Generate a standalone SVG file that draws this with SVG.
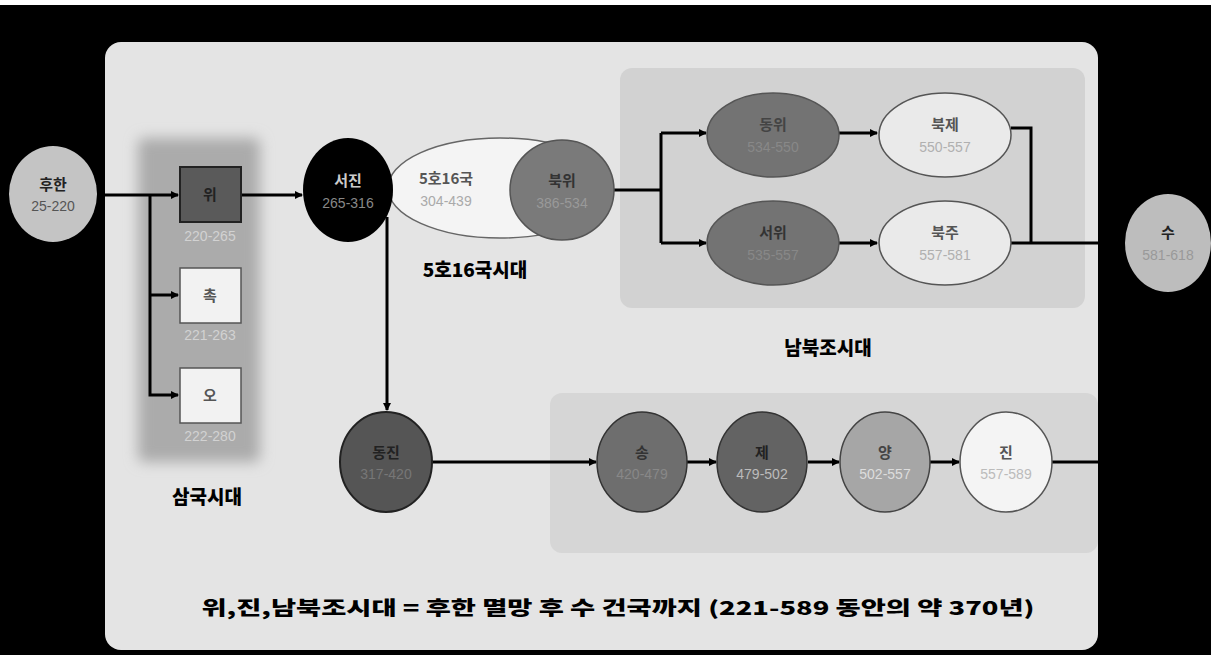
<svg xmlns="http://www.w3.org/2000/svg" width="1211" height="655" viewBox="0 0 1211 655">
<defs>
<marker id="arr" markerWidth="8" markerHeight="8" refX="7" refY="4" orient="auto" markerUnits="userSpaceOnUse">
<path d="M0,0 L8,4 L0,8 Z" fill="#000"/>
</marker>
<filter id="blur" x="-20%" y="-20%" width="140%" height="140%">
<feGaussianBlur stdDeviation="7"/>
</filter>
<style>
.nm{font-family:"Noto Sans CJK KR","Noto Sans",sans-serif;font-size:15px;font-weight:bold;text-anchor:middle}
.dt{font-family:"Liberation Sans","Noto Sans CJK KR",sans-serif;font-size:14px;text-anchor:middle}
.ttl{font-family:"Noto Sans CJK KR",sans-serif;font-size:19px;font-weight:900;text-anchor:middle;fill:#000}
.ln{fill:none;stroke:#000;stroke-width:3}
.ol{stroke:#555;stroke-width:1.5}
</style>
</defs>
<rect x="0" y="0" width="1211" height="655" fill="#000"/>
<rect x="0" y="0" width="1211" height="5" fill="#fff"/>
<rect x="105" y="42" width="993" height="608" rx="16" fill="#e4e4e4"/>
<rect x="620" y="68" width="465" height="240" rx="12" fill="#d2d2d2"/>
<rect x="550" y="393" width="548" height="160" rx="12" fill="#d6d6d6"/>
<rect x="138" y="138" width="122" height="324" rx="6" fill="#ababab" filter="url(#blur)"/>

<g id="connectors">
<path class="ln" d="M97,195 H178" marker-end="url(#arr)"/>
<path class="ln" d="M150,195 V395 H178" marker-end="url(#arr)"/>
<path class="ln" d="M150,295 H178" marker-end="url(#arr)"/>
<path class="ln" d="M241,195 H302" marker-end="url(#arr)"/>
<path class="ln" d="M387,217 V410" marker-end="url(#arr)"/>
<path class="ln" d="M614,190 H661"/>
<path class="ln" d="M661,133 V243"/>
<path class="ln" d="M661,133 H706" marker-end="url(#arr)"/>
<path class="ln" d="M661,243 H706" marker-end="url(#arr)"/>
<path class="ln" d="M839,133 H877" marker-end="url(#arr)"/>
<path class="ln" d="M839,243 H877" marker-end="url(#arr)"/>
<path class="ln" d="M1011,128 H1031 V243"/>
<path class="ln" d="M1011,243 H1100"/>
<path class="ln" d="M432,462 H596" marker-end="url(#arr)"/>
<path class="ln" d="M687,462 H716" marker-end="url(#arr)"/>
<path class="ln" d="M808,462 H839" marker-end="url(#arr)"/>
<path class="ln" d="M930,462 H959" marker-end="url(#arr)"/>
<path class="ln" d="M1052,462 H1098"/>
</g>

<g id="n-huhan">
<ellipse cx="53" cy="194" rx="44" ry="48" fill="#c4c4c4"/>
<text class="nm" x="53" y="190" fill="#222">후한</text>
<text class="dt" x="53" y="211" fill="#555">25-220</text>
</g>
<g id="n-wi">
<rect x="180" y="167" width="61" height="55" fill="#5a5a5a" stroke="#222" stroke-width="2"/>
<text class="nm" x="210" y="200" fill="#222">위</text>
<text class="dt" x="210" y="241" fill="#d2d2d2">220-265</text>
</g>
<g id="n-chok">
<rect x="180" y="268" width="61" height="55" fill="#f2f2f2" stroke="#555" stroke-width="1.5"/>
<text class="nm" x="210" y="301" fill="#555">촉</text>
<text class="dt" x="210" y="340" fill="#d2d2d2">221-263</text>
</g>
<g id="n-o">
<rect x="180" y="368" width="61" height="55" fill="#f2f2f2" stroke="#555" stroke-width="1.5"/>
<text class="nm" x="210" y="401" fill="#555">오</text>
<text class="dt" x="210" y="441" fill="#d2d2d2">222-280</text>
</g>
<text class="ttl" x="207" y="504">삼국시대</text>

<g id="n-5ho">
<ellipse cx="500" cy="188" rx="112" ry="50" fill="#f4f4f4" stroke="#666" stroke-width="1.5"/>
<text class="nm" x="446" y="184" fill="#555" font-weight="normal">5호16국</text>
<text class="dt" x="446" y="206" fill="#aaa">304-439</text>
</g>
<g id="n-seojin">
<ellipse cx="348" cy="190" rx="45" ry="52" fill="#000"/>
<text class="nm" x="348" y="186" fill="#ccc" font-weight="normal">서진</text>
<text class="dt" x="348" y="208" fill="#888">265-316</text>
</g>
<g id="n-bukwi">
<ellipse cx="562" cy="190" rx="52" ry="50" fill="#7a7a7a" class="ol"/>
<text class="nm" x="562" y="186" fill="#333">북위</text>
<text class="dt" x="562" y="208" fill="#999">386-534</text>
</g>
<text class="ttl" x="475" y="277">5호16국시대</text>

<g id="n-dongwi">
<ellipse cx="773" cy="135" rx="66" ry="42" fill="#737373" class="ol"/>
<text class="nm" x="773" y="130" fill="#444">동위</text>
<text class="dt" x="773" y="152" fill="#888">534-550</text>
</g>
<g id="n-seowi">
<ellipse cx="773" cy="243" rx="66" ry="42" fill="#737373" class="ol"/>
<text class="nm" x="773" y="238" fill="#333">서위</text>
<text class="dt" x="773" y="260" fill="#888">535-557</text>
</g>
<g id="n-bukje">
<ellipse cx="945" cy="135" rx="66" ry="42" fill="#eaeaea" class="ol"/>
<text class="nm" x="945" y="130" fill="#555">북제</text>
<text class="dt" x="945" y="152" fill="#b0b0b0">550-557</text>
</g>
<g id="n-bukju">
<ellipse cx="945" cy="243" rx="66" ry="42" fill="#eaeaea" class="ol"/>
<text class="nm" x="945" y="238" fill="#555">북주</text>
<text class="dt" x="945" y="260" fill="#b0b0b0">557-581</text>
</g>
<text class="ttl" x="828" y="355">남북조시대</text>

<g id="n-su">
<ellipse cx="1168" cy="243" rx="43" ry="49" fill="#bdbdbd"/>
<text class="nm" x="1168" y="238" fill="#222">수</text>
<text class="dt" x="1168" y="260" fill="#999">581-618</text>
</g>

<g id="n-dongjin">
<ellipse cx="386" cy="462" rx="46" ry="50" fill="#555" stroke="#222" stroke-width="2"/>
<text class="nm" x="386" y="458" fill="#222">동진</text>
<text class="dt" x="386" y="479" fill="#777">317-420</text>
</g>
<g id="n-song">
<ellipse cx="642" cy="462" rx="45" ry="50" fill="#6e6e6e" stroke="#333" stroke-width="1.5"/>
<text class="nm" x="642" y="458" fill="#333">송</text>
<text class="dt" x="642" y="479" fill="#888">420-479</text>
</g>
<g id="n-je">
<ellipse cx="762" cy="462" rx="45" ry="50" fill="#636363" stroke="#333" stroke-width="1.5"/>
<text class="nm" x="762" y="458" fill="#222">제</text>
<text class="dt" x="762" y="479" fill="#bbb">479-502</text>
</g>
<g id="n-yang">
<ellipse cx="885" cy="462" rx="45" ry="50" fill="#a6a6a6" stroke="#444" stroke-width="1.5"/>
<text class="nm" x="885" y="458" fill="#444">양</text>
<text class="dt" x="885" y="479" fill="#ddd">502-557</text>
</g>
<g id="n-jin">
<ellipse cx="1006" cy="462" rx="46" ry="50" fill="#f4f4f4" stroke="#555" stroke-width="1.5"/>
<text class="nm" x="1006" y="458" fill="#555">진</text>
<text class="dt" x="1006" y="479" fill="#bbb">557-589</text>
</g>

<text class="ttl" x="618" y="615" font-size="23" textLength="833" lengthAdjust="spacingAndGlyphs">위,진,남북조시대 = 후한 멸망 후 수 건국까지 (221-589 동안의 약 370년)</text>
</svg>
